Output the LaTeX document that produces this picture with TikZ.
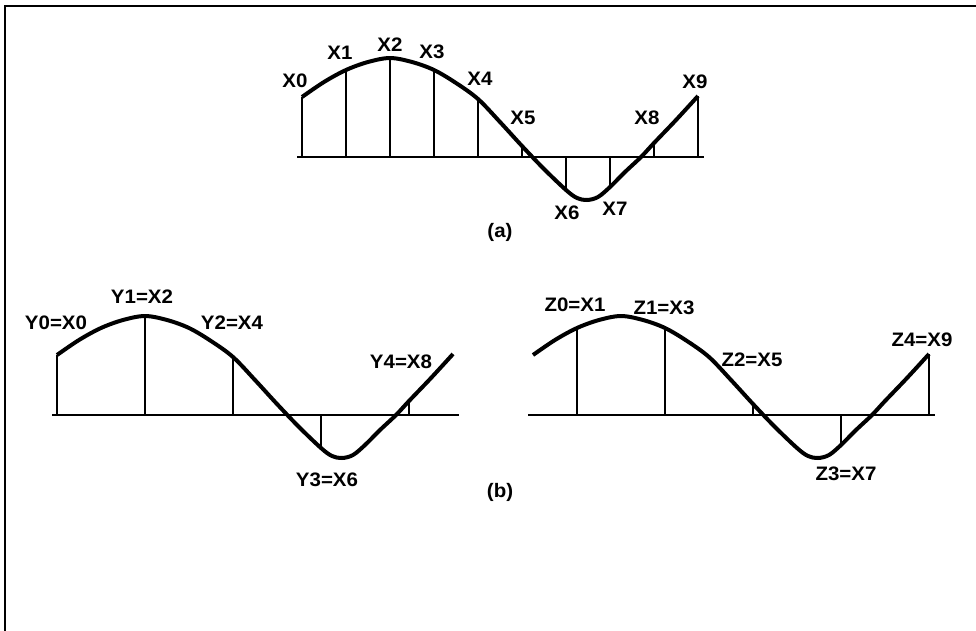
\documentclass[tikz,border=0pt]{standalone}
\usepackage{fontspec}
\setmainfont{Liberation Sans}
\newcommand{\drawwave}{%
  \draw[axis] (-5,0) -- (402,0);
  \draw[curve] plot[smooth,tension=0.55] coordinates {(0,60) (22,75) (44,87) (66,95) (88,99) (110,95) (132,87) (154,74) (176,58) (198,35) (220,11) (242,-12) (264,-33) (275,-41) (285,-43) (296,-40) (308,-30) (323,-15) (339,0) (352,14) (374,37) (396,61)};}
\begin{document}
\begin{tikzpicture}[x=1pt,y=-1pt,
  curve/.style={line width=4pt, line join=round},
  axis/.style={line width=2.9pt},
  stem/.style={line width=2.5pt},
  lbl/.style={font=\fontsize{19.5}{19.5}\selectfont\bfseries, inner sep=0pt, xscale=1.05, transform shape},
  frame/.style={line width=2.2pt}]
\useasboundingbox (0,0) rectangle (976,630);
\draw[frame] (5,631) -- (5,6) -- (977,6);

% (a) all samples
\begin{scope}[shift={(302,157)}, yscale=-1]
  \foreach \k/\h in {0/60,1/87,2/99,3/87,4/58,5/11,6/-33,7/-30,8/14,9/61}
    \draw[stem] (44*\k,0) -- (44*\k,\h);
  \drawwave
\end{scope}
% (b) left: even samples
\begin{scope}[shift={(57,415)}, yscale=-1]
  \foreach \k/\h in {0/60,2/99,4/58,6/-33,8/14}
    \draw[stem] (44*\k,0) -- (44*\k,\h);
  \drawwave
\end{scope}
% (b) right: odd samples
\begin{scope}[shift={(533,415)}, yscale=-1]
  \foreach \k/\h in {1/87,3/87,5/11,7/-30,9/61}
    \draw[stem] (44*\k,0) -- (44*\k,\h);
  \drawwave
\end{scope}

% labels (a)
\node[lbl] (x0) at (295,81) {X0};
\node[lbl] (x1) at (340,53) {X1};
\node[lbl] (x2) at (390,45) {X2};
\node[lbl] (x3) at (432,52) {X3};
\node[lbl] (x4) at (480,79) {X4};
\node[lbl] (x5) at (523,118) {X5};
\node[lbl] (x6) at (567,213) {X6};
\node[lbl] (x7) at (615,209) {X7};
\node[lbl] (x8) at (647,118) {X8};
\node[lbl] (x9) at (695,82) {X9};
\node[lbl] (ca) at (500,232) {(a)};

% labels (b) left
\node[lbl] (y0) at (56,323) {Y0=X0};
\node[lbl] (y1) at (142,297) {Y1=X2};
\node[lbl] (y2) at (232,323) {Y2=X4};
\node[lbl] (y3) at (327,480) {Y3=X6};
\node[lbl] (y4) at (401,362) {Y4=X8};

% labels (b) right
\node[lbl] (z0) at (575,305) {Z0=X1};
\node[lbl] (z1) at (664,308) {Z1=X3};
\node[lbl] (z2) at (752,360) {Z2=X5};
\node[lbl] (z3) at (846,474) {Z3=X7};
\node[lbl] (z4) at (922,340) {Z4=X9};
\node[lbl] (cb) at (500,492) {(b)};
\end{tikzpicture}
\end{document}
